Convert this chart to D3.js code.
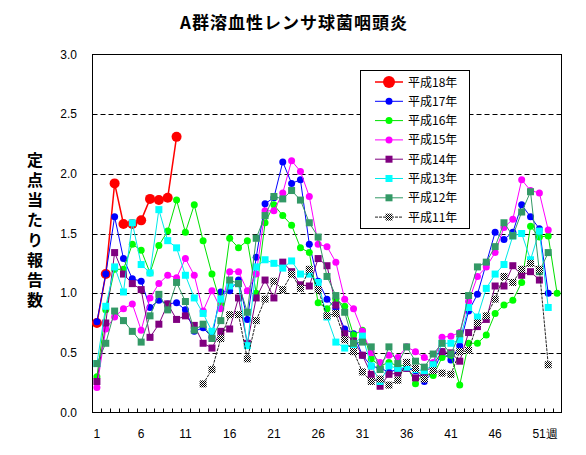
<!DOCTYPE html>
<html><head><meta charset="utf-8">
<script src="https://cdn.jsdelivr.net/npm/d3@7"></script>
<style>body{margin:0;background:#fff}svg{display:block}</style>
</head><body>
<script>
// ---- data ----
const weeks = d3.range(1, 54);
const xTickLabels = ["1","6","11","16","21","26","31","36","41","46","51週"];
const yTicks = [0, 0.5, 1.0, 1.5, 2.0, 2.5, 3.0];
const seriesNames = ["平成18年","平成17年","平成16年","平成15年","平成14年","平成13年","平成12年","平成11年"];
const h18 = [0.75,1.16,1.92,1.58,1.58,1.61,1.79,1.78,1.80,2.31];
const h17 = [0.76,1.16,1.64,1.29,1.12,1.10,0.88,0.94,0.91,0.92,0.86,0.68,0.71,0.63,1.01,1.02,1.11,0.78,1.30,1.75,1.80,2.10,1.92,1.95,1.41,1.10,0.95,0.87,0.70,0.66,0.48,0.39,0.37,0.34,0.36,0.37,0.35,0.26,0.34,0.51,0.44,0.56,0.85,0.99,1.25,1.51,1.45,1.51,1.74,1.64,1.54,1.00];
const h16 = [0.30,0.86,1.20,1.20,1.41,1.36,1.17,1.40,1.52,1.78,1.51,1.74,1.44,1.16,0.91,1.46,1.38,1.44,1.00,1.59,1.74,1.65,1.57,1.38,1.34,0.92,0.87,0.95,0.89,0.65,0.69,0.45,0.39,0.42,0.39,0.40,0.24,0.33,0.31,0.46,0.48,0.23,0.58,0.58,0.65,0.83,0.90,0.94,1.09,1.56,1.47,1.48,1.00];
const h15 = [0.21,0.70,0.80,0.87,0.91,0.69,0.96,1.08,1.15,1.13,1.29,1.15,0.85,1.02,0.87,1.18,1.18,1.02,1.16,1.69,1.69,1.84,2.11,2.02,1.81,1.41,1.39,1.26,0.95,0.87,0.68,0.50,0.42,0.48,0.46,0.55,0.51,0.46,0.42,0.63,0.64,0.67,0.93,1.14,1.22,1.34,1.55,1.62,1.95,1.86,1.84,1.53];
const h14 = [0.26,0.75,1.34,1.16,1.08,1.03,0.63,0.74,0.91,0.78,0.81,0.73,0.58,0.54,0.68,0.70,0.96,0.58,0.96,1.11,0.96,1.26,1.18,1.07,1.06,1.29,1.23,0.90,0.66,0.60,0.48,0.32,0.22,0.32,0.33,0.37,0.29,0.33,0.40,0.51,0.50,0.43,0.67,0.72,0.78,1.06,1.06,1.23,1.15,1.18,1.11];
const h13 = [0.41,0.89,1.22,1.01,1.59,1.24,1.17,1.70,1.44,1.38,1.15,0.96,0.83,0.68,0.95,1.06,1.08,0.56,1.22,1.28,1.25,1.21,1.27,1.16,1.16,1.09,0.80,0.59,0.54,0.57,0.64,0.39,0.26,0.39,0.37,0.38,0.36,0.35,0.40,0.58,0.58,0.61,0.88,0.80,1.04,1.16,1.24,1.48,1.50,1.28,1.52,0.88];
const h12 = [0.41,0.58,0.85,0.77,0.68,0.59,0.81,0.99,0.86,1.09,0.93,0.69,0.74,0.62,0.77,1.11,1.08,0.84,1.46,1.65,1.81,1.79,1.86,1.78,1.59,1.47,1.14,0.98,0.84,0.58,0.59,0.55,0.36,0.55,0.41,0.55,0.43,0.38,0.49,0.58,0.49,0.66,0.98,1.22,1.26,1.39,1.59,1.48,1.68,1.85,1.18,1.34];
const h11 = [null,null,null,null,null,null,null,null,null,null,null,null,0.24,0.36,0.62,0.82,0.82,0.45,0.77,0.95,1.10,1.03,1.16,1.04,1.20,1.03,0.81,0.83,0.61,0.51,0.34,0.26,0.28,0.23,0.27,0.42,0.37,0.28,0.35,0.33,0.32,0.51,0.52,0.75,0.81,0.95,1.14,1.09,1.20,1.25,1.20,0.40];

const seriesValues = [h18,h17,h16,h15,h14,h13,h12,h11];
const styles = [
  {color:"#ff0000", line:"#ff0000", shape:"circle", r:5, lw:1.5},
  {color:"#0000ff", line:"#0000ff", shape:"circle", r:3.5, lw:1},
  {color:"#00ff00", line:"#00e000", shape:"circle", r:3.5, lw:1},
  {color:"#ff00ff", line:"#ff00ff", shape:"circle", r:3.5, lw:1},
  {color:"#800080", line:"#800080", shape:"square", s:7, lw:1},
  {color:"#00ffff", line:"#00e8e8", shape:"square", s:7, lw:1},
  {color:"#339966", line:"#339966", shape:"square", s:7, lw:1},
  {color:"url(#checker)", line:"#222222", shape:"square", s:7, lw:1, dash:"3,1"}
];

const W = 586, H = 455;
const L = 92.5, R = 561.5, T = 54.5, B = 412.5;

const svg = d3.select("body").append("svg").attr("width", W).attr("height", H);
const defs = svg.append("defs");
const pat = defs.append("pattern").attr("id","checker").attr("patternUnits","userSpaceOnUse")
  .attr("width",2).attr("height",2);
pat.append("rect").attr("width",2).attr("height",2).attr("fill","#ffffff");
pat.append("rect").attr("width",1).attr("height",1).attr("fill","#000");
pat.append("rect").attr("x",1).attr("y",1).attr("width",1).attr("height",1).attr("fill","#000");

const x = d3.scaleBand().domain(weeks).range([L, R]);
const xc = w => x(w) + x.bandwidth()/2;
const y = d3.scaleLinear().domain([0, 3]).range([B, T]);

// title
svg.append("text").attr("x", 294).attr("y", 29).attr("text-anchor","middle")
  .attr("font-family","'Noto Sans CJK JP', sans-serif").attr("font-size",17).attr("font-weight","bold")
  .attr("letter-spacing", 1)
  .text("A群溶血性レンサ球菌咽頭炎");

// gridlines
svg.append("g").selectAll("line").data(yTicks.filter(v => v > 0 && v < 3)).join("line")
  .attr("x1", L).attr("x2", R).attr("y1", d => Math.round(y(d)) + 0.5).attr("y2", d => Math.round(y(d)) + 0.5)
  .attr("stroke","#000").attr("stroke-width",1).attr("stroke-dasharray","5,3");

// y labels
svg.append("g").selectAll("text").data(yTicks).join("text")
  .attr("x", 77).attr("y", d => y(d) + 4).attr("text-anchor","end")
  .attr("font-family","'Liberation Sans', Arial, sans-serif").attr("font-size",12)
  .text(d => d.toFixed(1));

// y title vertical (single text, upright characters)
svg.append("text").attr("x", 35).attr("y", 152)
  .attr("font-family","'Noto Sans CJK JP', sans-serif").attr("font-size",16).attr("font-weight","bold")
  .style("writing-mode","vertical-rl").style("text-orientation","upright")
  .attr("letter-spacing", 4)
  .text("定点当たり報告数");

// x ticks (category boundaries, inward)
svg.append("g").selectAll("line").data(weeks.slice(1)).join("line")
  .attr("x1", d => Math.round(x(d)) + 0.5).attr("x2", d => Math.round(x(d)) + 0.5)
  .attr("y1", B).attr("y2", B - 4).attr("stroke","#000");

// x labels
const labelWeeks = [1,6,11,16,21,26,31,36,41,46,51];
svg.append("g").selectAll("text").data(labelWeeks).join("text")
  .attr("x", (d,i) => i === labelWeeks.length-1 ? xc(d) - 7 : xc(d))
  .attr("y", 438)
  .attr("text-anchor", (d,i) => i === labelWeeks.length-1 ? "start" : "middle")
  .attr("font-family","'Liberation Sans', Arial, sans-serif").attr("font-size",12)
  .text((d,i) => xTickLabels[i]);

// frame
svg.append("rect").attr("x", L).attr("y", T).attr("width", R-L).attr("height", B-T)
  .attr("fill","none").attr("stroke","#000").attr("stroke-width",1);

// series
const line = d3.line().defined(d => d[1] != null).x(d => xc(d[0])).y(d => y(d[1]));
seriesValues.forEach((vals, si) => {
  const st = styles[si];
  const pts = weeks.map((w,i) => [w, vals[i] == null ? null : vals[i]]);
  const g = svg.append("g");
  const p = g.append("path").attr("d", line(pts)).attr("fill","none")
    .attr("stroke", st.line).attr("stroke-width", st.lw);
  if (st.dash) p.attr("stroke-dasharray", st.dash);
  const dp = pts.filter(d => d[1] != null);
  if (st.shape === "circle") {
    g.selectAll("circle").data(dp).join("circle")
      .attr("cx", d => xc(d[0])).attr("cy", d => y(d[1])).attr("r", st.r).attr("fill", st.color);
  } else {
    g.selectAll("rect").data(dp).join("rect")
      .attr("x", d => xc(d[0]) - st.s/2).attr("y", d => y(d[1]) - st.s/2)
      .attr("width", st.s).attr("height", st.s).attr("fill", st.color);
  }
});

// legend
const lg = svg.append("g");
lg.append("rect").attr("x", 360.5).attr("y", 70.5).attr("width", 109).attr("height", 158)
  .attr("fill","#fff").attr("stroke","#000");
seriesNames.forEach((name, i) => {
  const st = styles[i];
  const cy = 82 + i*19.3;
  const ln = lg.append("line").attr("x1",375).attr("x2",403).attr("y1",cy).attr("y2",cy)
    .attr("stroke", st.line).attr("stroke-width", st.lw);
  if (st.dash) ln.attr("stroke-dasharray", st.dash);
  if (st.shape === "circle") {
    lg.append("circle").attr("cx",389).attr("cy",cy).attr("r", i === 0 ? 6 : st.r).attr("fill", st.color);
  } else {
    lg.append("rect").attr("x",389-st.s/2).attr("y",cy-st.s/2).attr("width",st.s).attr("height",st.s).attr("fill",st.color);
  }
  lg.append("text").attr("x",408).attr("y",cy+4.5)
    .attr("font-family","'Noto Sans CJK JP', sans-serif").attr("font-size",12).text(name);
});
</script>
</body></html>
